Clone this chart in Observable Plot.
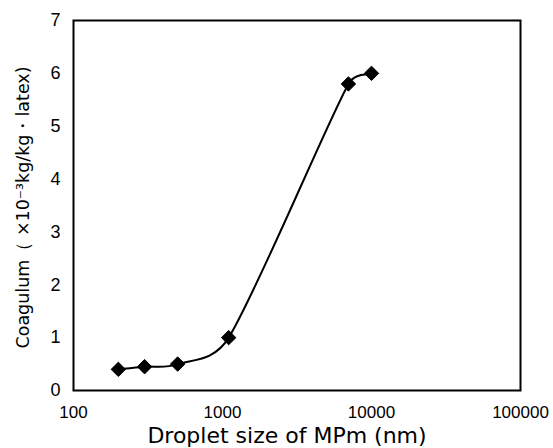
<!DOCTYPE html>
<html>
<head>
<meta charset="utf-8">
<script src="https://cdn.jsdelivr.net/npm/d3@7"></script>
<script src="https://cdn.jsdelivr.net/npm/@observablehq/plot@0.6"></script>
<style>
  html, body { margin: 0; padding: 0; background: #fff; }
  svg { font-family: "Liberation Sans", Arial, sans-serif; }
</style>
</head>
<body>
<div id="chart"></div>
<script>
const dropletSize = [200, 300, 500, 1100, 7000, 10000];
const coagulum = [0.40, 0.45, 0.50, 1.00, 5.80, 6.00];
const xTicks = [100, 1000, 10000, 100000];
const yTicks = [0, 1, 2, 3, 4, 5, 6, 7];
const xLabel = "Droplet size of MPm (nm)";
const yLabel = "Coagulum（ ×10⁻³kg/kg・latex)";

const data = dropletSize.map((d, i) => ({x: d, y: coagulum[i]}));

// Spreadsheet-style smoothed line: Catmull-Rom arms (neighbour difference / 6),
// each arm capped at half the length of the segment it belongs to.
function smoothCurve(context) {
  let pts = [];
  return {
    areaStart() {}, areaEnd() {},
    lineStart() { pts = []; },
    point(x, y) { pts.push([+x, +y]); },
    lineEnd() {
      const n = pts.length;
      if (!n) return;
      context.moveTo(pts[0][0], pts[0][1]);
      if (n === 1) return;
      const arm = pts.map((p, i) => {
        const a = pts[Math.max(0, i - 1)], b = pts[Math.min(n - 1, i + 1)];
        return [(b[0] - a[0]) / 6, (b[1] - a[1]) / 6];
      });
      const cap = (v, max) => {
        const l = Math.hypot(v[0], v[1]);
        return l > max ? [v[0] * max / l, v[1] * max / l] : v;
      };
      for (let i = 0; i < n - 1; i++) {
        const p = pts[i], q = pts[i + 1];
        const half = Math.hypot(q[0] - p[0], q[1] - p[1]) / 2;
        const a1 = cap(arm[i], half), a2 = cap(arm[i + 1], half);
        context.bezierCurveTo(p[0] + a1[0], p[1] + a1[1], q[0] - a2[0], q[1] - a2[1], q[0], q[1]);
      }
    }
  };
}

const chart = Plot.plot({
  width: 553,
  height: 448,
  marginLeft: 73,
  marginRight: 33,
  marginTop: 20,
  marginBottom: 58,
  style: {fontSize: "18px", color: "#000", background: "#fff"},
  x: {type: "log", domain: [100, 100000]},
  y: {domain: [0, 7]},
  marks: [
    Plot.axisX({ticks: xTicks, tickFormat: d => String(d), tickSize: 0, tickPadding: 15, label: null, fontSize: 17}),
    Plot.axisY({ticks: yTicks, tickFormat: d => String(d), tickSize: 0, tickPadding: 13, label: null, fontSize: 18}),
    Plot.frame({stroke: "#000", strokeWidth: 2}),
    Plot.line(data, {x: "x", y: "y", curve: smoothCurve, stroke: "#000", strokeWidth: 2}),
    Plot.dot(data, {x: "x", y: "y", symbol: "diamond2", r: 6.5, fill: "#000", stroke: "#000", strokeWidth: 1}),
    Plot.text([xLabel], {frameAnchor: "bottom", lineAnchor: "middle", dx: -10, dy: 45, fontSize: 22, fontFamily: "DejaVu Sans", fill: "#000"}),
    Plot.text([yLabel], {frameAnchor: "left", dx: -50, dy: 2, rotate: -90, textAnchor: "middle", fontSize: 17.5, fontFamily: "DejaVu Sans", fill: "#000"})
  ]
});
document.getElementById("chart").appendChild(chart);
</script>
</body>
</html>
